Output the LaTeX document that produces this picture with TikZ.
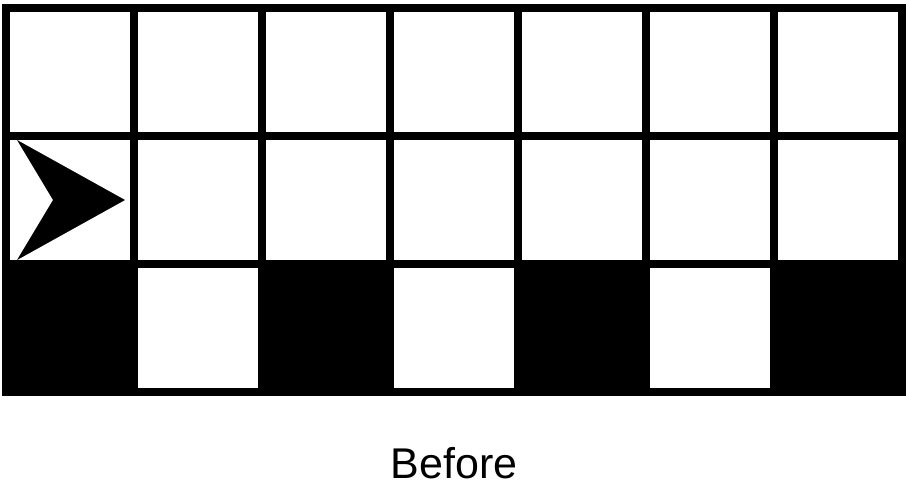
\documentclass[tikz,border=0pt]{standalone}
\usepackage{fontspec}
\setmainfont{Liberation Sans}
\usepackage{tikz}
\usetikzlibrary{positioning}

\begin{document}
\begin{tikzpicture}[x=1pt,y=-1pt]
    \useasboundingbox (0,0) rectangle (908,500);
    % dark squares of the bottom row
    \foreach \c in {0,2,4,6}
      \fill[black] (2+128*\c,260) rectangle (138+128*\c,396);
    % grid lines
    \foreach \c in {0,...,7}
      \draw[line width=8] (6+128*\c,4) -- (6+128*\c,396);
    \foreach \r in {0,...,3}
      \draw[line width=8] (2,8+128*\r) -- (906,8+128*\r);
    % the pointer
    \fill[black] (17,140) -- (125,200) -- (17,260) -- (53,200) -- cycle;
    \node[anchor=base, font=\fontsize{43}{48}\selectfont] (caption) at (454,478) {Before};
  \end{tikzpicture}
\end{document}
